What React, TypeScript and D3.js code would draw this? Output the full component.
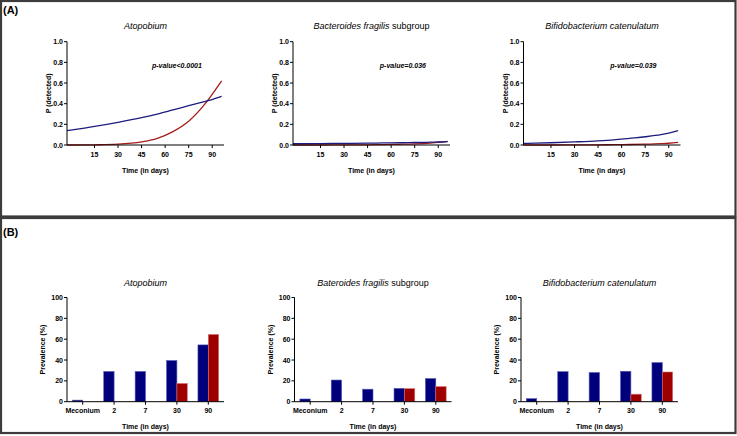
import React from "react";
import * as d3 from "d3";

const W = 737;
const H = 436;

// ---- Panel A data (fitted probability curves) ----
const lineDays = [-2.5, 0, 15, 30, 45, 55, 65, 75, 85, 90, 96];
const lineTicks = [15, 30, 45, 60, 75, 90];
const probTicks = [0, 0.2, 0.4, 0.6, 0.8, 1.0];
const lineTitles = ["Atopobium", "Bacteroides fragilis", "Bifidobacterium catenulatum"];
const lineTitleSuffix = ["", " subgroup", ""];
const pValues = ["p-value<0.0001", "p-value=0.036", "p-value=0.039"];
const atopobiumBlueP = [0.14, 0.145, 0.18, 0.22, 0.265, 0.3, 0.34, 0.38, 0.42, 0.44, 0.47];
const atopobiumRedP = [0, 0, 0.002, 0.008, 0.03, 0.065, 0.13, 0.23, 0.39, 0.49, 0.62];
const bacteroidesBlueP = [0.012, 0.012, 0.014, 0.016, 0.018, 0.02, 0.022, 0.024, 0.027, 0.029, 0.032];
const bacteroidesRedP = [0, 0, 0, 0.001, 0.002, 0.004, 0.007, 0.011, 0.019, 0.025, 0.035];
const bifidoBlueP = [0.015, 0.016, 0.022, 0.03, 0.04, 0.05, 0.065, 0.08, 0.1, 0.115, 0.138];
const bifidoRedP = [0, 0, 0, 0.001, 0.002, 0.003, 0.005, 0.008, 0.013, 0.017, 0.025];

// ---- Panel B data (prevalence bars) ----
const barCategories = ["Meconium", "2", "7", "30", "90"];
const prevTicks = [0, 20, 40, 60, 80, 100];
const barTitles = ["Atopobium", "Bateroides fragilis", "Bifidobacterium catenulatum"];
const atopobiumBlue = [1.5, 29, 29, 39.5, 54.5];
const atopobiumRed = [0, 0, 0, 17.5, 64.5];
const bacteroidesBlue = [2.6, 20.8, 12, 12.8, 22.2];
const bacteroidesRed = [0, 0, 0, 12.5, 14.5];
const bifidoBlue = [2.9, 28.8, 28, 29.2, 37.5];
const bifidoRed = [0, 0, 0, 7.2, 28.5];

const BLUE = "#00007c";
const RED = "#9e0000";
const LINE_BLUE = "#1c1c7e";
const LINE_RED = "#a51c1c";
const FONT = "'Liberation Sans', Arial, sans-serif";

const lineSeries = [
  [atopobiumBlueP, atopobiumRedP],
  [bacteroidesBlueP, bacteroidesRedP],
  [bifidoBlueP, bifidoRedP],
];
const barSeries = [
  [atopobiumBlue, atopobiumRed],
  [bacteroidesBlue, bacteroidesRed],
  [bifidoBlue, bifidoRed],
];

const lineX0 = [67, 293, 523.5];
const barX0 = [67, 294.5, 521];
const PLOT_W = 157;

function LineChart({ idx }: { idx: number }) {
  const x0 = lineX0[idx];
  const x = d3.scaleLinear().domain([-2.5, 97.5]).range([x0, x0 + PLOT_W]);
  const y = d3.scaleLinear().domain([0, 1]).range([145, 41.7]);
  const line = d3
    .line<number>()
    .x((_, i) => x(lineDays[i]))
    .y((d) => y(d))
    .curve(d3.curveMonotoneX);
  const [blue, red] = lineSeries[idx];
  const cx = x0 + PLOT_W / 2;
  return (
    <g fontFamily={FONT}>
      <text x={cx} y={29} textAnchor="middle" fontSize={9}>
        <tspan fontStyle="italic">{lineTitles[idx]}</tspan>
        {lineTitleSuffix[idx]}
      </text>
      <text
        x={x0 + PLOT_W * 0.7}
        y={y(0.77) + 2.5}
        textAnchor="middle"
        fontSize={7}
        fontWeight="bold"
        fontStyle="italic"
      >
        {pValues[idx]}
      </text>
      <path d={line(red) || ""} fill="none" stroke={LINE_RED} strokeWidth={1.3} />
      <path d={line(blue) || ""} fill="none" stroke={LINE_BLUE} strokeWidth={1.3} />
      <line x1={x0} x2={x0} y1={y(1)} y2={y(0)} stroke="#000" strokeWidth={1} />
      <line x1={x0} x2={x0 + PLOT_W} y1={y(0)} y2={y(0)} stroke="#000" strokeWidth={1} />
      {probTicks.map((t) => (
        <g key={t}>
          <line x1={x0 - 3} x2={x0} y1={y(t)} y2={y(t)} stroke="#000" />
          <text x={x0 - 4} y={y(t) + 2.5} textAnchor="end" fontSize={7} fontWeight="bold">
            {d3.format(".1f")(t)}
          </text>
        </g>
      ))}
      {lineTicks.map((t) => (
        <g key={t}>
          <line x1={x(t)} x2={x(t)} y1={y(0)} y2={y(0) + 3} stroke="#000" />
          <text x={x(t)} y={y(0) + 12} textAnchor="middle" fontSize={7} fontWeight="bold">
            {t}
          </text>
        </g>
      ))}
      <text x={cx} y={173} textAnchor="middle" fontSize={7} fontWeight="bold">
        Time (in days)
      </text>
      <text
        transform={`translate(${x0 - 16},${(y(0) + y(1)) / 2}) rotate(-90)`}
        textAnchor="middle"
        fontSize={7}
        fontWeight="bold"
      >
        P (detected)
      </text>
    </g>
  );
}

function BarChart({ idx }: { idx: number }) {
  const x0 = barX0[idx];
  const x = d3
    .scaleBand<string>()
    .domain(barCategories)
    .range([x0, x0 + PLOT_W])
    .paddingInner(0.34)
    .paddingOuter(0.17);
  const y = d3.scaleLinear().domain([0, 100]).range([401.7, 297.5]);
  const [blue, red] = barSeries[idx];
  const bw = x.bandwidth() / 2;
  const cx = x0 + PLOT_W / 2;
  return (
    <g fontFamily={FONT}>
      <text x={cx} y={285.5} textAnchor="middle" fontSize={9}>
        <tspan fontStyle="italic">{barTitles[idx]}</tspan>
        {lineTitleSuffix[idx]}
      </text>
      {barCategories.map((c, i) => (
        <g key={c}>
          {blue[i] > 0 && (
            <rect
              x={x(c)!}
              y={y(blue[i])}
              width={bw}
              height={y(0) - y(blue[i])}
              fill={BLUE}
              stroke="#5858b8"
              strokeWidth={0.6}
            />
          )}
          {red[i] > 0 && (
            <rect
              x={x(c)! + bw}
              y={y(red[i])}
              width={bw}
              height={y(0) - y(red[i])}
              fill={RED}
              stroke="#d87070"
              strokeWidth={0.6}
            />
          )}
        </g>
      ))}
      <line x1={x0} x2={x0} y1={y(100)} y2={y(0)} stroke="#000" strokeWidth={1} />
      <line x1={x0} x2={x0 + PLOT_W} y1={y(0)} y2={y(0)} stroke="#000" strokeWidth={1} />
      {prevTicks.map((t) => (
        <g key={t}>
          <line x1={x0 - 3} x2={x0} y1={y(t)} y2={y(t)} stroke="#000" />
          <text x={x0 - 4} y={y(t) + 2.5} textAnchor="end" fontSize={7} fontWeight="bold">
            {t}
          </text>
        </g>
      ))}
      {barCategories.map((c) => {
        const tx = x(c)! + x.bandwidth() / 2;
        return (
          <g key={c}>
            <line x1={tx} x2={tx} y1={y(0)} y2={y(0) + 3} stroke="#000" />
            <text x={tx} y={y(0) + 11} textAnchor="middle" fontSize={7} fontWeight="bold">
              {c}
            </text>
          </g>
        );
      })}
      <text x={cx} y={429} textAnchor="middle" fontSize={7} fontWeight="bold">
        Time (in days)
      </text>
      <text
        transform={`translate(${x0 - 22},${(y(0) + y(100)) / 2}) rotate(-90)`}
        textAnchor="middle"
        fontSize={7}
        fontWeight="bold"
      >
        Prevalence (%)
      </text>
    </g>
  );
}

export default function App() {
  return (
    <svg
      width={W}
      height={H}
      style={{ position: "absolute", left: 0, top: 0, background: "#fff" }}
    >
      <rect x={0} y={0} width={W} height={H} fill="#fff" />
      <rect x={1} y={1} width={734.5} height={215.5} fill="none" stroke="#3c3c3c" strokeWidth={2.2} />
      <rect x={1} y={218} width={734.5} height={215} fill="none" stroke="#3c3c3c" strokeWidth={2.2} />
      <text x={3} y={14} fontFamily={FONT} fontSize={11} fontWeight="bold">
        (A)
      </text>
      <text x={3} y={235.5} fontFamily={FONT} fontSize={11} fontWeight="bold">
        (B)
      </text>
      {[0, 1, 2].map((i) => (
        <LineChart key={`l${i}`} idx={i} />
      ))}
      {[0, 1, 2].map((i) => (
        <BarChart key={`b${i}`} idx={i} />
      ))}
    </svg>
  );
}
